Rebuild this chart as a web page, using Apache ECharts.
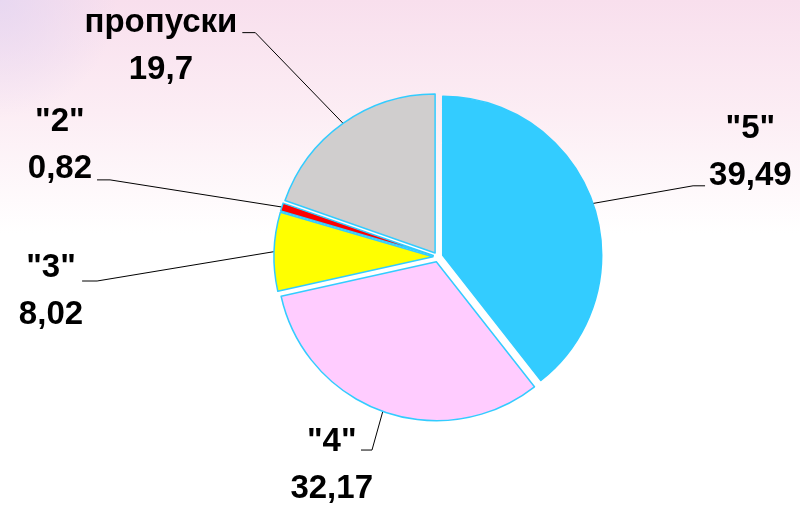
<!DOCTYPE html>
<html>
<head>
<meta charset="utf-8">
<script src="https://cdn.jsdelivr.net/npm/echarts@6/dist/echarts.min.js"></script>
<style>
html, body { margin: 0; padding: 0; }
#main { width: 800px; height: 508px; }
</style>
</head>
<body>
<div id="main"></div>
<script>
// данные
var categories = ['"5"', '"4"', '"3"', '"2"', 'пропуски'];
var values = [39.49, 32.17, 8.02, 0.82, 19.7];
var colors = ['#33CCFF', '#FFCCFF', '#FFFF00', '#FF0000', '#D0CECE'];

// подписи: длина выносок, отступ, поля, "полочка" выноски
var labelSetup = [
    { len: 54, len2: 61, dist: 4, pad: [0, 0, 67, 0], stub: 12, shift: [0, 0] },
    { len: 41, len2: 8, dist: -12, pad: [31, 0, 0, 0], stub: 11, shift: [0, 0] },
    { len: 20, len2: 166, dist: 5, pad: [81, 0, 0, 0], stub: 15, shift: [-6, 30] },
    { len: 89, len2: 100, dist: 5, pad: [0, 0, 69, 0], stub: 13, shift: [0, 0] },
    { len: 110, len2: 37, dist: 5, pad: [25, 0, 0, 0], stub: 13, shift: [0, -1] }
];

var myChart = echarts.init(document.getElementById('main'));

var pieData = categories.map(function (name, i) {
    var s = labelSetup[i];
    return {
        name: name,
        value: values[i],
        selected: true,
        itemStyle: { color: colors[i] },
        label: { padding: s.pad, distanceToLabelLine: s.dist },
        labelLine: { length: s.len, length2: s.len2 }
    };
});

myChart.setOption({
    animation: false,
    backgroundColor: {
        type: 'linear', x: 0, y: 0, x2: 0, y2: 1,
        colorStops: [
            { offset: 0, color: '#F8DFED' },
            { offset: 0.22, color: '#FCEDF4' },
            { offset: 0.46, color: '#FFFFFF' },
            { offset: 1, color: '#FFFFFF' }
        ]
    },
    graphic: [{
        type: 'rect',
        z: -10,
        silent: true,
        shape: { x: 0, y: 0, width: 800, height: 260 },
        style: {
            fill: {
                type: 'radial', x: 0, y: 0, r: 0.45,
                colorStops: [
                    { offset: 0, color: 'rgba(228,214,242,0.8)' },
                    { offset: 1, color: 'rgba(228,214,242,0)' }
                ]
            }
        }
    }],
    series: [{
        type: 'pie',
        center: [438, 257],
        radius: 159,
        startAngle: 90,
        clockwise: true,
        selectedMode: 'multiple',
        selectedOffset: 5,
        avoidLabelOverlap: false,
        emphasis: { disabled: true },
        itemStyle: { borderColor: '#33CCFF', borderWidth: 1.5 },
        label: {
            show: true,
            position: 'outside',
            formatter: function (p) {
                return '{t|' + p.name + '}\n{t|' + String(p.value).replace('.', ',') + '}';
            },
            rich: {
                t: {
                    align: 'center',
                    fontFamily: 'Liberation Sans',
                    fontWeight: 'bold',
                    fontSize: 33,
                    lineHeight: 47,
                    color: '#000000'
                }
            }
        },
        labelLine: {
            show: true,
            lineStyle: { color: '#000000', width: 1 }
        },
        // выноски как в Excel: прямой отрезок и короткая полочка
        labelLayout: function (params) {
            var pts = params.labelLinePoints;
            if (!pts || pts.length < 3) {
                return {};
            }
            var s = labelSetup[params.dataIndex];
            var end = [pts[2][0] + s.shift[0], pts[2][1] + s.shift[1]];
            var side = pts[2][0] < pts[0][0] ? 1 : -1;
            var turn = [end[0] + side * s.stub, end[1]];
            return { labelLinePoints: [pts[0], turn, end] };
        },
        data: pieData
    }]
});
</script>
</body>
</html>
